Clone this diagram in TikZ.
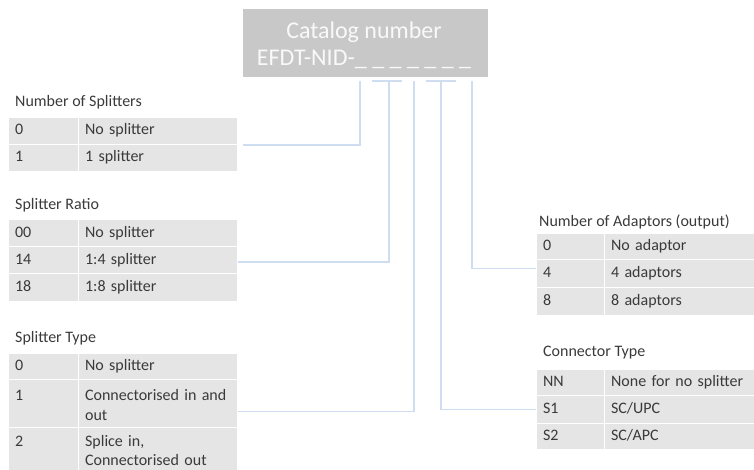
\documentclass[tikz,border=0pt]{standalone}
\usepackage{fontspec}
\setmainfont{Carlito}
\definecolor{cellgray}{HTML}{E5E5E5}
\definecolor{boxgray}{HTML}{C8C8C8}
\definecolor{txt}{HTML}{3A3A3A}
\definecolor{conn}{HTML}{CFDDF1}
\newcommand\trow[8]{%
  \node[cellbox, text width={(#3-#2)*1pt-13pt}, minimum height={(#6-#5)*1pt}, anchor=north west] (#1a) at (#2,#5) {\strut#7};
  \node[cellbox, text width={(#4-#3)*1pt-13pt}, minimum height={(#6-#5)*1pt}, anchor=north west] (#1b) at (#3,#5) {\strut#8};}
\begin{document}
\begin{tikzpicture}[x=1pt,y=-1pt,
  cellbox/.style={fill=cellgray, draw=white, line width=1.2pt, inner xsep=6.5pt, inner ysep=1pt, align=left, font=\fontsize{16}{19.5}\selectfont, text=txt},
  ttl/.style={anchor=west, inner sep=0pt, font=\fontsize{16}{19.5}\selectfont, text=txt},
  wire/.style={draw=conn, line width=1.6pt}]
\useasboundingbox (0,0) rectangle (754,470);
% catalog box
\node[fill=boxgray, minimum width=245pt, minimum height=68pt, anchor=north west, inner sep=0pt] (cat) at (243,9) {};
\node[text=white!95!gray, font=\fontsize{24}{27}\selectfont, align=center, inner sep=0pt] (cattxt) at (364,45) {Catalog number\\EFDT-NID-\_ \_ \_ \_ \_ \_ \_};
% Number of Splitters
\node[ttl] (tns) at (15,102) {Number of Splitters};
\trow{nsA}{8}{78}{237}{117}{144}{0}{No splitter}
\trow{nsB}{8}{78}{237}{144}{171}{1}{1 splitter}
% Splitter Ratio
\node[ttl] (tsr) at (15,205) {Splitter Ratio};
\trow{srA}{8}{78}{237}{219}{246}{00}{No splitter}
\trow{srB}{8}{78}{237}{246}{273}{14}{1:4 splitter}
\trow{srC}{8}{78}{237}{273}{301}{18}{1:8 splitter}
% Splitter Type
\node[ttl] (tst) at (15,338) {Splitter Type};
\trow{stA}{8}{78}{237}{353}{379}{0}{No splitter}
\trow{stB}{8}{78}{237}{379}{427}{1\\~}{Connectorised in and\\out}
\trow{stC}{8}{78}{237}{427}{470}{2\\~}{Splice in,\\Connectorised out}
% Number of Adaptors
\node[ttl] (tad) at (539,222) {Number of Adaptors (output)};
\trow{adA}{536}{604}{756}{233}{259}{0}{No adaptor}
\trow{adB}{536}{604}{756}{259}{287}{4}{4 adaptors}
\trow{adC}{536}{604}{756}{287}{315}{8}{8 adaptors}
% Connector Type
\node[ttl] (tct) at (543,353) {Connector Type};
\trow{ctA}{536}{604}{756}{369}{395}{NN}{None for no splitter}
\trow{ctB}{536}{604}{756}{395}{423}{S1}{SC/UPC}
\trow{ctC}{536}{604}{756}{423}{449}{S2}{SC/APC}
% connectors
\coordinate (p1) at (360,81);
\coordinate (p2) at (389,81);
\coordinate (p3) at (414,81);
\coordinate (p4) at (441,81);
\coordinate (p5) at (472,81);
\coordinate (b2l) at (372,81); \coordinate (b2r) at (402,81);
\coordinate (b4l) at (426,81); \coordinate (b4r) at (456,81);
\draw[wire] (b2l) -- (b2r);
\draw[wire] (b4l) -- (b4r);
\draw[wire] (p1) |- ([xshift=5pt]nsAb.south east);
\draw[wire] (p2) |- ([yshift=-2pt]srBb.east);
\draw[wire] (p3) |- ([yshift=-8pt]stBb.east);
\draw[wire] (p4) |- (ctBa.west);
\draw[wire] (p5) |- ([yshift=5pt]adBa.west);
\end{tikzpicture}
\end{document}
